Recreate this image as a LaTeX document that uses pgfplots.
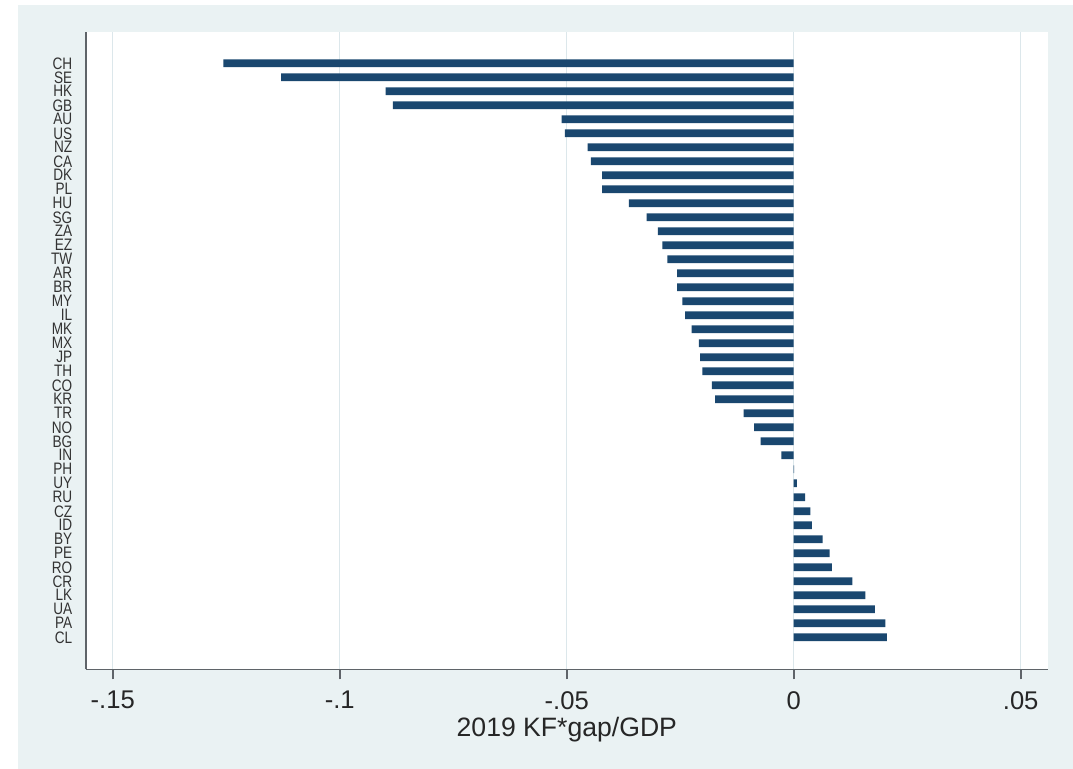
\documentclass[border=0pt]{standalone}
\usepackage{pgfplots}
\pgfplotsset{compat=1.18}
\usepackage{fontspec}
\setmainfont{Liberation Sans}
\newfontfamily\narrowfont[FakeStretch=0.82]{Liberation Sans}
\definecolor{stnavy}{RGB}{26,71,111}
\definecolor{stbg}{RGB}{234,242,243}
\definecolor{stgrid}{RGB}{220,231,235}
\definecolor{staxis}{RGB}{95,100,105}
\begin{document}
\begin{tikzpicture}
\path[use as bounding box] (-43pt,-49.75pt) rectangle (493.5pt,334.75pt);
\fill[stbg] (-34pt,-49.75pt) rectangle (493.5pt,332.25pt);
\begin{axis}[
  at={(0pt,0pt)}, anchor=south west,
  scale only axis, width=480.85pt, height=318.75pt,
  xmin=-0.15588, xmax=0.05595, ymin=-2.3, ymax=43.236,
  axis x line*=bottom, axis y line*=left,
  axis line style={-, draw=staxis, line width=0.9pt},
  axis background/.style={fill=white},
  xtick={-0.15,-0.1,-0.05,0,0.05},
  xticklabels={-.15,-.1,-.05,0,.05},
  ytick={0,...,41},
  yticklabels={CL,PA,UA,LK,CR,RO,PE,BY,ID,CZ,RU,UY,PH,IN,BG,NO,TR,KR,CO,TH,JP,MX,MK,IL,MY,BR,AR,TW,EZ,ZA,SG,HU,PL,DK,CA,NZ,US,AU,GB,HK,SE,CH},
  tick align=outside, major tick length=5pt,
  xtick style={draw=staxis, line width=0.9pt},
  ytick style={draw=none},
  xmajorgrids, grid style={stgrid, line width=0.8pt},
  xticklabel style={font=\fontsize{12.8}{13}\selectfont, text=black!85, anchor=north, inner sep=0pt, yshift=-5.7pt},
  yticklabel style={font=\narrowfont\fontsize{8.3}{8.5}\selectfont, text=black!80, anchor=east, inner sep=0pt, xshift=-1.65pt},
  xlabel={2019 KF*gap/GDP},
  xlabel style={font=\fontsize{13.3}{14}\selectfont, text=black!85, at={(axis description cs:0.5,0)}, anchor=base, yshift=-33.6pt, inner sep=0pt},
  clip=false,
]
\addplot[xbar, bar width=3.8pt, fill=stnavy, draw=none] coordinates {
(0.0205,0) (0.0202,1) (0.0179,2) (0.0158,3) (0.0129,4) (0.0084,5) (0.0079,6) (0.0064,7) (0.0040,8) (0.0037,9)
(0.0025,10) (0.0007,11) (0.0001,12) (-0.0027,13) (-0.0073,14) (-0.0087,15) (-0.0110,16) (-0.0173,17) (-0.0180,18) (-0.0201,19)
(-0.0206,20) (-0.0209,21) (-0.0225,22) (-0.0239,23) (-0.0245,24) (-0.0257,25) (-0.0257,26) (-0.0278,27) (-0.0289,28) (-0.0299,29)
(-0.0324,30) (-0.0363,31) (-0.0422,32) (-0.0422,33) (-0.0447,34) (-0.0454,35) (-0.0504,36) (-0.0511,37) (-0.0883,38) (-0.0899,39)
(-0.1129,40) (-0.1256,41)
};
\end{axis}
\end{tikzpicture}
\end{document}
